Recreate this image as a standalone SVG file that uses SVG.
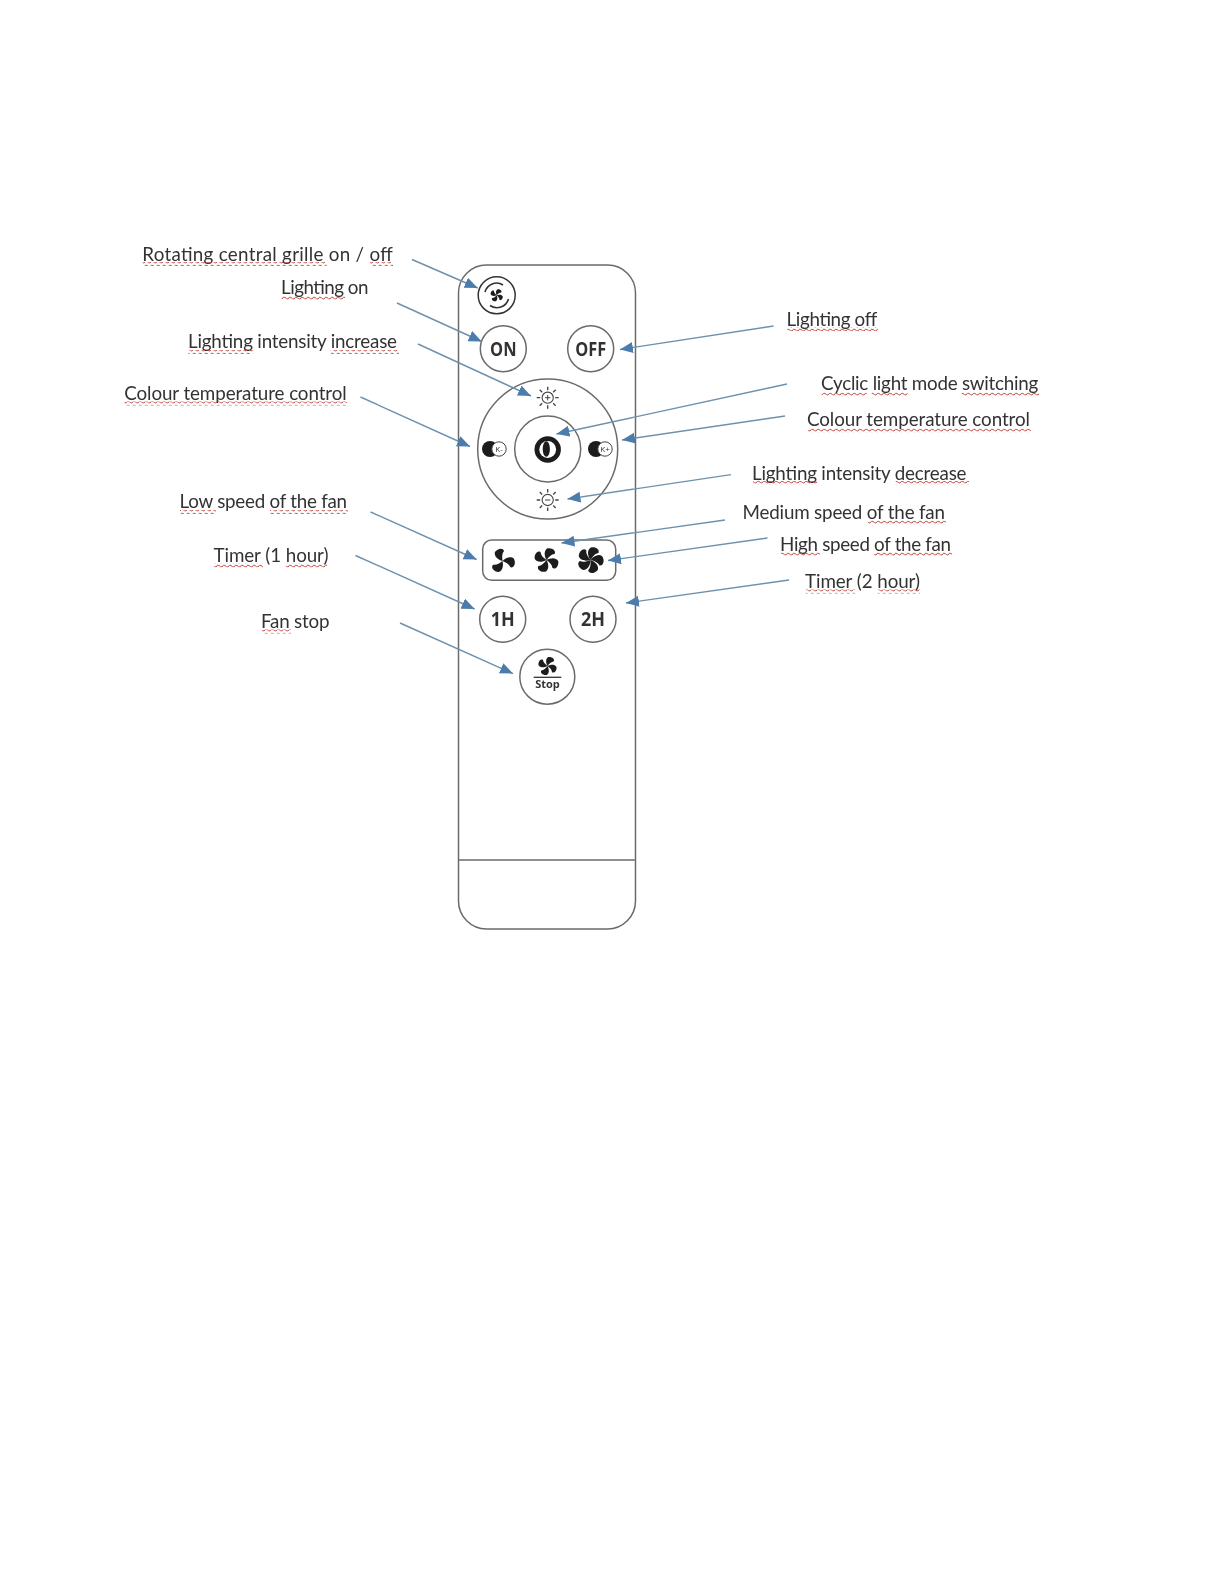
<svg xmlns="http://www.w3.org/2000/svg" xmlns:xlink="http://www.w3.org/1999/xlink" width="1224" height="1584" viewBox="0 0 1224 1584">
<style>
.lab{font-family:Lato,"Liberation Sans",sans-serif;font-size:18.8px;fill:#333}
.btn{fill:#fff;stroke:#6b6b6b;stroke-width:1.5}
.btxt{font-family:"Open Sans","Liberation Sans",sans-serif;font-weight:700;font-size:19.5px;fill:#333;text-anchor:middle}
.conn{fill:none;stroke:#6d91ad;stroke-width:1.4;marker-end:url(#arr)}
.sq{fill:url(#wave)}
.ray{stroke:#444;stroke-width:1.3;fill:none}
</style>
<defs>
<filter id="soft" x="-2%" y="-2%" width="104%" height="104%"><feGaussianBlur stdDeviation="0.4"/></filter>
<marker id="arr" markerUnits="userSpaceOnUse" markerWidth="15" markerHeight="13" refX="13" refY="5.5" orient="auto"><path d="M0,0 L13,5.5 L0,11 Z" fill="#4b7cab"/></marker>
<pattern id="wave" patternUnits="userSpaceOnUse" width="6" height="4" y="0"><path d="M0,3 Q1.5,0 3,1.5 T6,3" fill="none" stroke="#bf4f4a" stroke-width="1"/></pattern>
<path id="blade" d="M0,0 C-3,-3 -5,-8 -2,-11 C2,-13 7,-11 6,-7.5 C3,-6.5 1.5,-3.5 0,0 Z" fill="#1e1e1e"/>
<g id="fan3"><use xlink:href="#blade"/><use xlink:href="#blade" transform="rotate(120)"/><use xlink:href="#blade" transform="rotate(240)"/></g>
<g id="fan4"><use xlink:href="#blade"/><use xlink:href="#blade" transform="rotate(90)"/><use xlink:href="#blade" transform="rotate(180)"/><use xlink:href="#blade" transform="rotate(270)"/></g>
<g id="fan5"><use xlink:href="#blade"/><use xlink:href="#blade" transform="rotate(72)"/><use xlink:href="#blade" transform="rotate(144)"/><use xlink:href="#blade" transform="rotate(216)"/><use xlink:href="#blade" transform="rotate(288)"/></g>
<g id="sun"><circle r="5.6" fill="#fff" stroke="#444" stroke-width="1.1"/><path class="ray" d="M0,-7.5V-11M0,7.5V11M-7.5,0H-11M7.5,0H11M-5.5,-5.5L-8,-8M5.5,-5.5L8,-8M-5.5,5.5L-8,8M5.5,5.5L8,8"/></g>
</defs>
<rect width="1224" height="1584" fill="#fff"/>
<g filter="url(#soft)">
<g id="remote">
<path d="M486.5,265H607.5A28,28 0 0 1 635.5,293V901A28,28 0 0 1 607.5,929H486.5A28,28 0 0 1 458.5,901V293A28,28 0 0 1 486.5,265Z" fill="#fff" stroke="#6b6b6b" stroke-width="1.5"/>
<path d="M458.5,860H635.5" stroke="#6b6b6b" stroke-width="1.5"/>
</g>
<g id="btn-grille"><circle class="btn" cx="496.7" cy="295.3" r="18.5" style="stroke:#333"/>
<use xlink:href="#fan4" transform="translate(496.7 295.3) scale(.55) rotate(20)"/>
<path d="M485,292A12,12 0 0 1 503,285M508.5,299A12,12 0 0 1 490,305.5" fill="none" stroke="#333" stroke-width="1.6"/></g>
<g id="btn-on"><circle class="btn" cx="503.3" cy="348.7" r="23"/><text class="btxt" x="503.3" y="355.5" textLength="26.5" lengthAdjust="spacingAndGlyphs">ON</text></g>
<g id="btn-off"><circle class="btn" cx="590.7" cy="348.7" r="23"/><text class="btxt" x="590.7" y="355.5" textLength="31" lengthAdjust="spacingAndGlyphs">OFF</text></g>
<g id="ring"><circle class="btn" cx="547.7" cy="449" r="70"/></g>
<g id="btn-mode"><circle class="btn" cx="547.7" cy="449" r="33"/>
<circle cx="547.7" cy="449.5" r="13.2" fill="#1c1c1c"/><circle cx="547.7" cy="449.5" r="8.4" fill="#fff"/><ellipse cx="546.3" cy="449" rx="3.6" ry="7.8" fill="#1c1c1c"/></g>
<g id="btn-kminus"><circle cx="490" cy="449" r="8" fill="#1c1c1c"/><circle cx="499" cy="449" r="7.2" fill="#fff" stroke="#444"/><text x="499" y="451.5" font-family="Open Sans,sans-serif" font-size="8" fill="#333" text-anchor="middle">K-</text></g>
<g id="btn-kplus"><circle cx="596" cy="449" r="8" fill="#1c1c1c"/><circle cx="605" cy="449" r="7.2" fill="#fff" stroke="#444"/><text x="605" y="451.5" font-family="Open Sans,sans-serif" font-size="8" fill="#333" text-anchor="middle">K+</text></g>
<g id="btn-sun-plus"><use xlink:href="#sun" transform="translate(547.7 397.7)"/><path d="M545,397.7H550.4M547.7,395V400.4" stroke="#444" stroke-width="1"/></g>
<g id="btn-sun-minus"><use xlink:href="#sun" transform="translate(547.7 500)"/><path d="M545,500H550.4" stroke="#444" stroke-width="1"/></g>
<g id="fan-speeds"><rect class="btn" x="482.7" y="540" width="133" height="40.3" rx="9"/>
<use xlink:href="#fan3" transform="translate(502.5 561) rotate(-30) scale(1.05)"/>
<use xlink:href="#fan4" transform="translate(546.5 560) rotate(15) scale(1.05)"/>
<use xlink:href="#fan5" transform="translate(590.5 560) rotate(10) scale(1.1)"/></g>
<g id="btn-1h"><circle class="btn" cx="502.7" cy="619.3" r="23"/><text class="btxt" x="502.7" y="626.3" textLength="24" lengthAdjust="spacingAndGlyphs">1H</text></g>
<g id="btn-2h"><circle class="btn" cx="593" cy="619.3" r="23"/><text class="btxt" x="593" y="626.3" textLength="24" lengthAdjust="spacingAndGlyphs">2H</text></g>
<g id="btn-stop"><circle class="btn" cx="547.3" cy="676.7" r="27.5"/>
<use xlink:href="#fan4" transform="translate(547.5 666) rotate(15) scale(.8)"/>
<path d="M533.7,677.3H561.3" stroke="#333" stroke-width="1.3"/>
<text class="btxt" x="547.5" y="688" style="font-size:11px">Stop</text></g>
<g id="connectors">
<path class="conn" d="M412,259.5L477.7,288"/>
<path class="conn" d="M397,303L481.7,341.5"/>
<path class="conn" d="M418,344L531,396"/>
<path class="conn" d="M360.5,397L470,446.5"/>
<path class="conn" d="M773.6,326L620,349.5"/>
<path class="conn" d="M787,384L556.5,434"/>
<path class="conn" d="M785,416L622,440"/>
<path class="conn" d="M731,474.6L567.5,499"/>
<path class="conn" d="M725,520L561.5,543"/>
<path class="conn" d="M767.5,538L608,560.5"/>
<path class="conn" d="M789,580L626,603"/>
<path class="conn" d="M370.6,512L476.7,559.5"/>
<path class="conn" d="M355.5,555.5L474.6,609"/>
<path class="conn" d="M400,623L513,673.6"/>
</g>
<g id="labels">
<g id="l1"><text class="lab" x="142.2" y="261" textLength="250.5">Rotating central grille on / off</text><rect class="sq" x="142.7" y="262" width="184" height="4"/><rect class="sq" x="370" y="262" width="23" height="4"/></g>
<g id="l2"><text class="lab" x="281" y="294.3" textLength="87.5">Lighting on</text><rect class="sq" x="281.7" y="296" width="63.3" height="4"/></g>
<g id="l3"><text class="lab" x="188" y="348.3" textLength="209">Lighting intensity increase</text><rect class="sq" x="188.5" y="350" width="64.2" height="4"/><rect class="sq" x="330.7" y="350" width="68.3" height="4"/></g>
<g id="l4"><text class="lab" x="124.2" y="400" textLength="222.5">Colour temperature control</text><rect class="sq" x="124.5" y="401.5" width="222.5" height="4"/></g>
<g id="l5"><text class="lab" x="179.5" y="508.3" textLength="167.5">Low speed of the fan</text><rect class="sq" x="180" y="510" width="36" height="4"/><rect class="sq" x="270" y="510" width="78" height="4"/></g>
<g id="l6"><text class="lab" x="213.5" y="561.9" textLength="115">Timer (1 hour)</text><rect class="sq" x="214" y="563.5" width="49" height="4"/><rect class="sq" x="285.7" y="563.5" width="41.3" height="4"/></g>
<g id="l7"><text class="lab" x="261" y="627.7" textLength="68.5">Fan stop</text><rect class="sq" x="261.7" y="629.5" width="29.3" height="4"/></g>
<g id="r1"><text class="lab" x="786.5" y="325.5" textLength="90.7">Lighting off</text><rect class="sq" x="787.3" y="327" width="90.7" height="4"/></g>
<g id="r2"><text class="lab" x="821" y="390.3" textLength="217.3">Cyclic light mode switching</text><rect class="sq" x="821.7" y="392.5" width="45" height="4"/><rect class="sq" x="871.7" y="392.5" width="36" height="4"/><rect class="sq" x="961.7" y="392.5" width="77.3" height="4"/></g>
<g id="r3"><text class="lab" x="807" y="426" textLength="223">Colour temperature control</text><rect class="sq" x="808" y="428.5" width="223" height="4"/></g>
<g id="r4"><text class="lab" x="752" y="479.5" textLength="214.5">Lighting intensity decrease</text><rect class="sq" x="753" y="481" width="64" height="4"/><rect class="sq" x="895.7" y="481" width="73.3" height="4"/></g>
<g id="r5"><text class="lab" x="742.5" y="519" textLength="202.5">Medium speed of the fan</text><rect class="sq" x="868" y="520.5" width="78" height="4"/></g>
<g id="r6"><text class="lab" x="780" y="550.7" textLength="171">High speed of the fan</text><rect class="sq" x="781" y="552" width="39" height="4"/><rect class="sq" x="874" y="552" width="78" height="4"/></g>
<g id="r7"><text class="lab" x="805" y="587.7" textLength="115">Timer (2 hour)</text><rect class="sq" x="805.7" y="589.5" width="49.3" height="4"/><rect class="sq" x="877.7" y="589.5" width="42.3" height="4"/></g>
</g>
</g>
</svg>
